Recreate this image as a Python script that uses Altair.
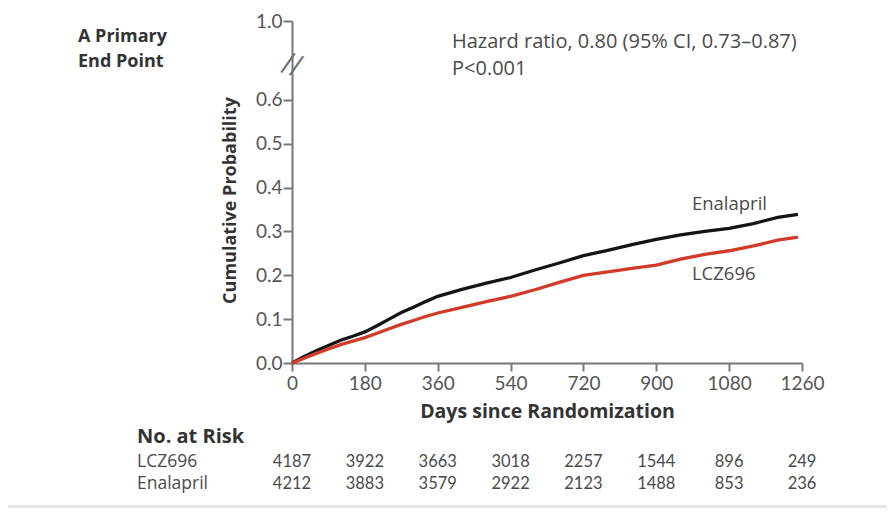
import altair as alt
import pandas as pd

# ---- data ----
days = [0, 30, 60, 90, 120, 150, 180, 210, 240, 270, 300, 330, 360, 420, 480,
        540, 600, 660, 720, 780, 840, 900, 960, 1020, 1080, 1140, 1200, 1250]
enalapril = [0.000, 0.015, 0.028, 0.040, 0.052, 0.061, 0.071, 0.085, 0.100, 0.115,
             0.127, 0.140, 0.152, 0.168, 0.182, 0.195, 0.212, 0.228, 0.245, 0.257,
             0.270, 0.282, 0.292, 0.300, 0.307, 0.318, 0.332, 0.339]
lcz696 = [0.000, 0.011, 0.022, 0.032, 0.042, 0.050, 0.058, 0.068, 0.078, 0.088,
          0.097, 0.106, 0.114, 0.127, 0.140, 0.152, 0.167, 0.184, 0.200, 0.208,
          0.216, 0.223, 0.237, 0.248, 0.256, 0.267, 0.280, 0.287]

risk_days = [0, 180, 360, 540, 720, 900, 1080, 1260]
risk_lcz696 = [4187, 3922, 3663, 3018, 2257, 1544, 896, 249]
risk_enalapril = [4212, 3883, 3579, 2922, 2123, 1488, 853, 236]

y_ticks = [0.0, 0.1, 0.2, 0.3, 0.4, 0.5, 0.6]
y_top = 0.78          # position on the broken axis where "1.0" sits
x_ticks = [0, 180, 360, 540, 720, 900, 1080, 1260]

FONT = "Open Sans"
LFONT = "Lato"
TXT = "#4a4a4a"
DARK = "#333333"
TS = 18.5

curves = pd.concat([
    pd.DataFrame({"day": days, "p": enalapril, "arm": "Enalapril"}),
    pd.DataFrame({"day": days, "p": lcz696, "arm": "LCZ696"}),
])
risk = pd.DataFrame({"day": risk_days, "lcz": risk_lcz696, "ena": risk_enalapril})
one = pd.DataFrame({"a": [0]})

xscale = alt.Scale(domain=[0, 1260], nice=False, zero=False)
yscale = alt.Scale(domain=[0, y_top], nice=False, zero=False)

lines = alt.Chart(curves).mark_line(strokeWidth=3.3).encode(
    x=alt.X("day:Q", scale=xscale,
            axis=alt.Axis(values=x_ticks, format="d", title="Days since Randomization",
                          tickSize=8, labelPadding=3, titleY=54, labelFlush=False,
                          labelOverlap=False, titleFontSize=19.5,
                          titleBaseline="alphabetic")),
    y=alt.Y("p:Q", scale=yscale,
            axis=alt.Axis(values=y_ticks + [y_top], title="Cumulative Probability",
                          labelExpr="datum.value > 0.7 ? '1.0' : format(datum.value, '.1f')",
                          tickSize=9, labelPadding=1, titleX=-62, titleY=179,
                          labelFlush=False, labelOverlap=False,
                          titleAngle=270, titleBaseline="middle", titleAlign="center")),
    color=alt.Color("arm:N", scale=alt.Scale(domain=["Enalapril", "LCZ696"],
                                             range=["#141414", "#d23a29"]), legend=None),
)


def data_label(text, x, y):
    return alt.Chart(one).mark_text(text=text, font=FONT, fontSize=TS, color=TXT,
                                    align="left", baseline="alphabetic").encode(
        x=alt.datum(x), y=alt.datum(y))


def px_text(text, x, y, size=TS, weight="normal", color=TXT, baseline="alphabetic", **kw):
    return alt.Chart(one).mark_text(text=text, font=FONT, fontSize=size, fontWeight=weight,
                                    color=color, align="left", baseline=baseline, **kw).encode(
        x=alt.value(x), y=alt.value(y))


arm_labels = data_label("Enalapril", 988, 0.349) + data_label("LCZ696", 988, 0.189)

hr1 = px_text("Hazard ratio, 0.80 (95% CI, 0.73\u20130.87)", 160, 27, size=20)
hr2 = px_text("P<0.001", 160, 54, size=20)

panel1 = px_text("A Primary", -214, 21, size=18, weight="bold", color=DARK)
panel2 = px_text("End Point", -214, 46, size=18, weight="bold", color=DARK)

brk = alt.Chart(one).mark_text(text="//", font="DejaVu Sans", fontSize=27, color="#6e6e6e",
                               angle=18, align="center", baseline="middle").encode(
    x=alt.value(0), y=alt.value(44))

risk_head = px_text("No. at Risk", -155, 416, size=20, weight="bold", color=DARK,
                    baseline="middle")
row1_name = px_text("LCZ696", -155, 441, size=17.5, baseline="middle")
row2_name = px_text("Enalapril", -155, 463, size=17.5, baseline="middle")
row1 = alt.Chart(risk).mark_text(font=LFONT, fontSize=16.5, color=TXT, align="center",
                                 baseline="middle").encode(
    x=alt.X("day:Q", scale=xscale), y=alt.value(441), text="lcz:Q")
row2 = alt.Chart(risk).mark_text(font=LFONT, fontSize=16.5, color=TXT, align="center",
                                 baseline="middle").encode(
    x=alt.X("day:Q", scale=xscale), y=alt.value(463), text="ena:Q")

band = alt.Chart(one).mark_rect(color="#e4e4e4").encode(
    x=alt.value(-284), x2=alt.value(595), y=alt.value(484), y2=alt.value(490))

chart = alt.layer(
    band, lines, arm_labels, hr1, hr2, panel1, panel2, brk,
    risk_head, row1_name, row2_name, row1, row2,
).properties(
    width=510, height=342,
    padding={"left": 284, "top": 13, "right": 85, "bottom": 145},
    autosize="none",
    background="white",
).configure_view(stroke=None).configure_axis(
    grid=False, domainColor="#777777", tickColor="#777777", domainWidth=2, tickWidth=2,
    labelFont=LFONT, labelFontSize=19, labelColor="#555555",
    titleFont=FONT, titleFontSize=18, titleFontWeight="bold", titleColor=DARK,
)

chart.save("out.html", embed_options={"renderer": "svg", "actions": False})
